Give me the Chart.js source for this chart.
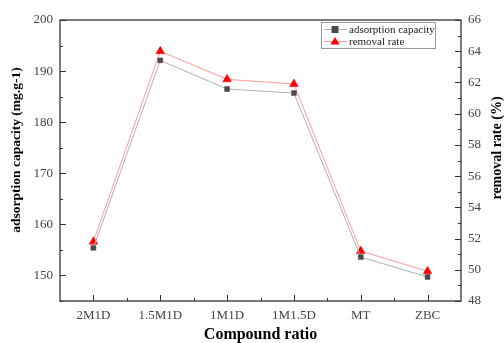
<!DOCTYPE html>
<html><head><meta charset="utf-8">
<script src="https://cdn.jsdelivr.net/npm/chart.js@4/dist/chart.umd.min.js"></script>
<style>html,body{margin:0;padding:0;background:#fff}#wrap{width:504px;height:343px}</style>
</head><body><div id="wrap"><canvas id="c" width="504" height="343"></canvas></div>
<script>
const categories = ["2M1D","1.5M1D","1M1D","1M1.5D","MT","ZBC"];
const adsorption = [155.4, 192.1, 186.5, 185.7, 153.6, 149.7];
const removal = [51.8, 64.0, 62.2, 61.9, 51.2, 49.9];
const leftTicks = [150,160,170,180,190,200];
const rightTicks = [48,50,52,54,56,58,60,62,64,66];
const SERIF = '"Liberation Serif","DejaVu Serif",serif';

const framePlugin = {
  id:'frame',
  afterDraw(chart){
    const ctx = chart.ctx, a = chart.chartArea;
    const x = chart.scales.x, yL = chart.scales.y, yR = chart.scales.y1;
    ctx.save();
    ctx.strokeStyle = '#333'; ctx.lineWidth = 1.3;
    ctx.strokeRect(a.left, a.top, a.right-a.left, a.bottom-a.top);
    ctx.lineWidth = 1;
    ctx.beginPath();
    for (let i=0;i<categories.length;i++){
      const px = Math.round(x.getPixelForValue(i))+0.5;
      ctx.moveTo(px, a.bottom); ctx.lineTo(px, a.bottom-6);
      if (i<categories.length-1){
        const mx = Math.round((x.getPixelForValue(i)+x.getPixelForValue(i+1))/2)+0.5;
        ctx.moveTo(mx, a.bottom); ctx.lineTo(mx, a.bottom-3);
      }
    }
    for (let v=145; v<=200; v+=5){
      const py = Math.round(yL.getPixelForValue(v))+0.5;
      const len = (v%10===0)?6:3;
      ctx.moveTo(a.left, py); ctx.lineTo(a.left+len, py);
    }
    for (let v=48; v<=66; v+=1){
      const py = Math.round(yR.getPixelForValue(v))+0.5;
      const len = (v%2===0)?6:3;
      ctx.moveTo(a.right, py); ctx.lineTo(a.right-len, py);
    }
    ctx.stroke();
    ctx.fillStyle = '#000';
    ctx.textAlign = 'center'; ctx.textBaseline = 'middle';
    ctx.font = 'bold 16px '+SERIF;
    ctx.fillText('Compound ratio', (a.left+a.right)/2, 335);
    ctx.save();
    ctx.translate(17, 150); ctx.rotate(-Math.PI/2);
    ctx.font = 'bold 13.5px '+SERIF;
    ctx.fillText('adsorption capacity (mg.g-1)', 0, 0);
    ctx.restore();
    ctx.save();
    ctx.translate(497, 148); ctx.rotate(-Math.PI/2);
    ctx.font = 'bold 14px '+SERIF;
    ctx.fillText('removal rate (%)', 0, 0);
    ctx.restore();
    ctx.restore();
  }
};

new Chart(document.getElementById('c'), {
  type:'line',
  data:{
    labels: categories,
    datasets:[
      {label:'adsorption capacity', data: adsorption, yAxisID:'y',
       borderColor:'#b0b0b0', borderWidth:1, pointStyle:'rect', pointRadius:3.5,
       pointBackgroundColor:'#4a4a4a', pointBorderColor:'#4a4a4a', pointBorderWidth:0.5, tension:0},
      {label:'removal rate', data: removal, yAxisID:'y1',
       borderColor:'#ff9a9a', borderWidth:1, pointStyle:'triangle', pointRadius:5,
       pointBackgroundColor:'#ff0000', pointBorderColor:'#ff0000', pointBorderWidth:0.5, tension:0}
    ]
  },
  options:{
    responsive:false, animation:false, devicePixelRatio:1,
    layout:{padding:{top:20, left:0, right:0, bottom:0}},
    plugins:{ legend:{display:false}, tooltip:{enabled:false} },
    scales:{
      x:{
        offset:true,
        grid:{display:false, drawTicks:false},
        border:{display:false},
        ticks:{color:'#444', font:{family:SERIF, size:13}, padding:7, maxRotation:0},
        afterFit(s){ s.height = 42; }
      },
      y:{
        position:'left', min:145, max:200,
        grid:{display:false, drawTicks:false},
        border:{display:false},
        afterBuildTicks(s){ s.ticks = leftTicks.map(v=>({value:v})); },
        ticks:{color:'#444', font:{family:SERIF, size:13}, padding:7},
        afterFit(s){ s.width = 60; }
      },
      y1:{
        position:'right', min:48, max:66,
        grid:{display:false, drawTicks:false},
        border:{display:false},
        afterBuildTicks(s){ s.ticks = rightTicks.map(v=>({value:v})); },
        ticks:{color:'#444', font:{family:SERIF, size:13}, padding:7},
        afterFit(s){ s.width = 43; }
      }
    }
  },
  plugins:[framePlugin, {
    id:'legendBox',
    afterDraw(chart){
      const ctx = chart.ctx;
      const ds = chart.data.datasets;
      const bx = 321, by = 22, bw = 114, bh = 26;
      ctx.save();
      ctx.strokeStyle = '#999'; ctx.lineWidth = 1;
      ctx.strokeRect(bx+0.5, by+0.5, bw, bh);
      ctx.font = '11px '+SERIF; ctx.textBaseline = 'middle'; ctx.textAlign = 'left';
      ds.forEach((d,i)=>{
        const cy = by + 7 + i*12;
        ctx.strokeStyle = d.borderColor; ctx.lineWidth = 1;
        ctx.beginPath(); ctx.moveTo(bx+3, cy+0.5); ctx.lineTo(bx+26, cy+0.5); ctx.stroke();
        ctx.fillStyle = d.pointBackgroundColor;
        if (d.pointStyle==='rect'){ ctx.fillRect(bx+14-3.5, cy-3, 7, 7); }
        else { ctx.beginPath(); ctx.moveTo(bx+14, cy-4); ctx.lineTo(bx+18.5, cy+3.5); ctx.lineTo(bx+9.5, cy+3.5); ctx.closePath(); ctx.fill(); }
        ctx.fillStyle = '#222';
        ctx.fillText(d.label, bx+28, cy+1);
      });
      ctx.restore();
    }
  }]
});
</script></body></html>
